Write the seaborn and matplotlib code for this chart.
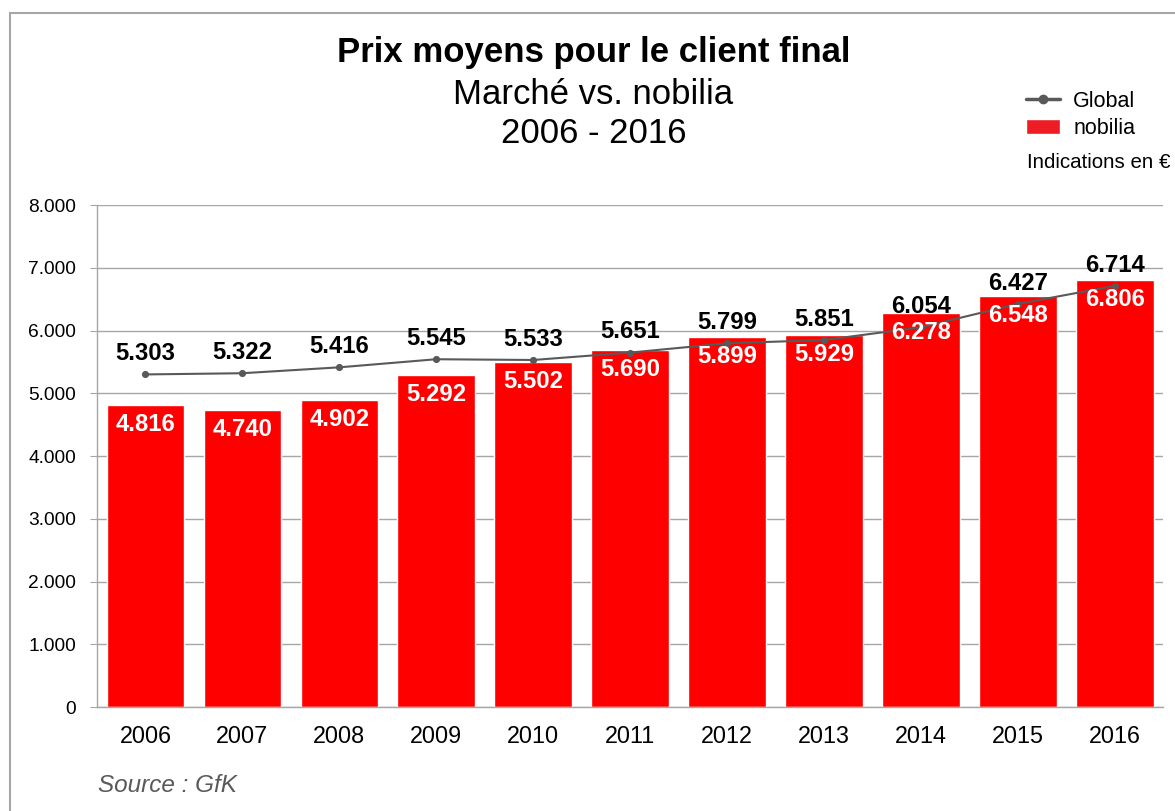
import matplotlib
matplotlib.use("Agg")
import matplotlib.pyplot as plt
import seaborn as sns
import pandas as pd
from matplotlib.lines import Line2D
from matplotlib.patches import Patch, Rectangle
from matplotlib.ticker import FuncFormatter, FixedLocator

YEARS   = ["2006", "2007", "2008", "2009", "2010", "2011",
           "2012", "2013", "2014", "2015", "2016"]
NOBILIA = [4816, 4740, 4902, 5292, 5502, 5690, 5899, 5929, 6278, 6548, 6806]
GLOBAL  = [5303, 5322, 5416, 5545, 5533, 5651, 5799, 5851, 6054, 6427, 6714]

RED  = "#ff0000"
GREY = "#595959"

df = pd.DataFrame({"year": YEARS, "nobilia": NOBILIA, "global": GLOBAL})

sns.set_style("white")
plt.rcParams["font.family"] = ["Liberation Sans", "DejaVu Sans"]
plt.rcParams["text.color"] = "black"


def fmt_de(v):
    return f"{v:,.0f}".replace(",", ".")


fig = plt.figure(figsize=(11.75, 8.11), dpi=100)
ax = fig.add_axes([0.0825, 0.128, 0.9075, 0.619])

sns.barplot(data=df, x="year", y="nobilia", order=YEARS, color=RED,
            saturation=1, width=0.8, ax=ax, zorder=2)
sns.pointplot(data=df, x="year", y="global", order=YEARS, color=GREY,
              markers="o", markersize=4, linewidth=1.5, ax=ax)
for coll in ax.collections:
    coll.set_zorder(4)
for ln in ax.lines:
    ln.set_zorder(4)

ax.set_xlim(-0.5, len(YEARS) - 0.5)
ax.set_ylim(0, 8000)
ax.set_xlabel("")
ax.set_ylabel("")
ax.yaxis.set_major_locator(FixedLocator(range(0, 8001, 1000)))
ax.yaxis.set_major_formatter(FuncFormatter(lambda v, p: fmt_de(v)))
ax.grid(axis="y", color="#a6a6a6", linewidth=1, zorder=0)
ax.set_axisbelow(True)

for s in ["top", "right"]:
    ax.spines[s].set_visible(False)
for s in ["left", "bottom"]:
    ax.spines[s].set_color("#a6a6a6")
    ax.spines[s].set_linewidth(1)

ax.tick_params(axis="x", which="major", length=0, labelsize=16.8, pad=13,
               labelcolor="black")
ax.xaxis.set_minor_locator(FixedLocator([i - 0.5 for i in range(len(YEARS) + 1)]))
ax.tick_params(axis="x", which="minor", length=6, color="#a6a6a6", width=1)
ax.tick_params(axis="y", length=5, color="#a6a6a6", labelsize=13.8,
               labelcolor="black", pad=10, left=True)

for i, (n, g) in enumerate(zip(NOBILIA, GLOBAL)):
    ax.annotate(fmt_de(n), (i, n), xytext=(0, -14), textcoords="offset points",
                ha="center", va="center", color="white", fontsize=17.2,
                fontweight="bold", zorder=5)
    ax.annotate(fmt_de(g), (i, g), xytext=(0, 15), textcoords="offset points",
                ha="center", va="center", color="black", fontsize=17.2,
                fontweight="bold", zorder=5)

fig.text(0.505, 0.935, "Prix moyens pour le client final", ha="center",
         va="center", fontsize=25, fontweight="bold")
fig.text(0.505, 0.883, "Marché vs. nobilia", ha="center", va="center",
         fontsize=25)
fig.text(0.505, 0.836, "2006 - 2016", ha="center", va="center", fontsize=25)

handles = [Line2D([0], [0], color=GREY, lw=2.5, marker="o", markersize=6),
           Patch(facecolor="#ee1c25")]
fig.legend(handles, ["Global", "nobilia"], loc="upper left",
           bbox_to_anchor=(0.873, 0.888), frameon=False, fontsize=15.5,
           handlelength=1.6, handletextpad=0.6, labelspacing=0.3,
           borderaxespad=0, borderpad=0)
fig.text(0.874, 0.800, "Indications en €", ha="left", va="center",
         fontsize=14.8)

fig.text(0.083, 0.032, "Source : GfK", ha="left", va="center", fontsize=17.5,
         style="italic", color="#595959")

fig.add_artist(Rectangle((10 / 1175, -0.1), 1.2, 1.1 - 13 / 811,
                         transform=fig.transFigure, fill=False,
                         edgecolor="#a6a6a6", linewidth=1.5))

fig.savefig("out.png", dpi=100)
